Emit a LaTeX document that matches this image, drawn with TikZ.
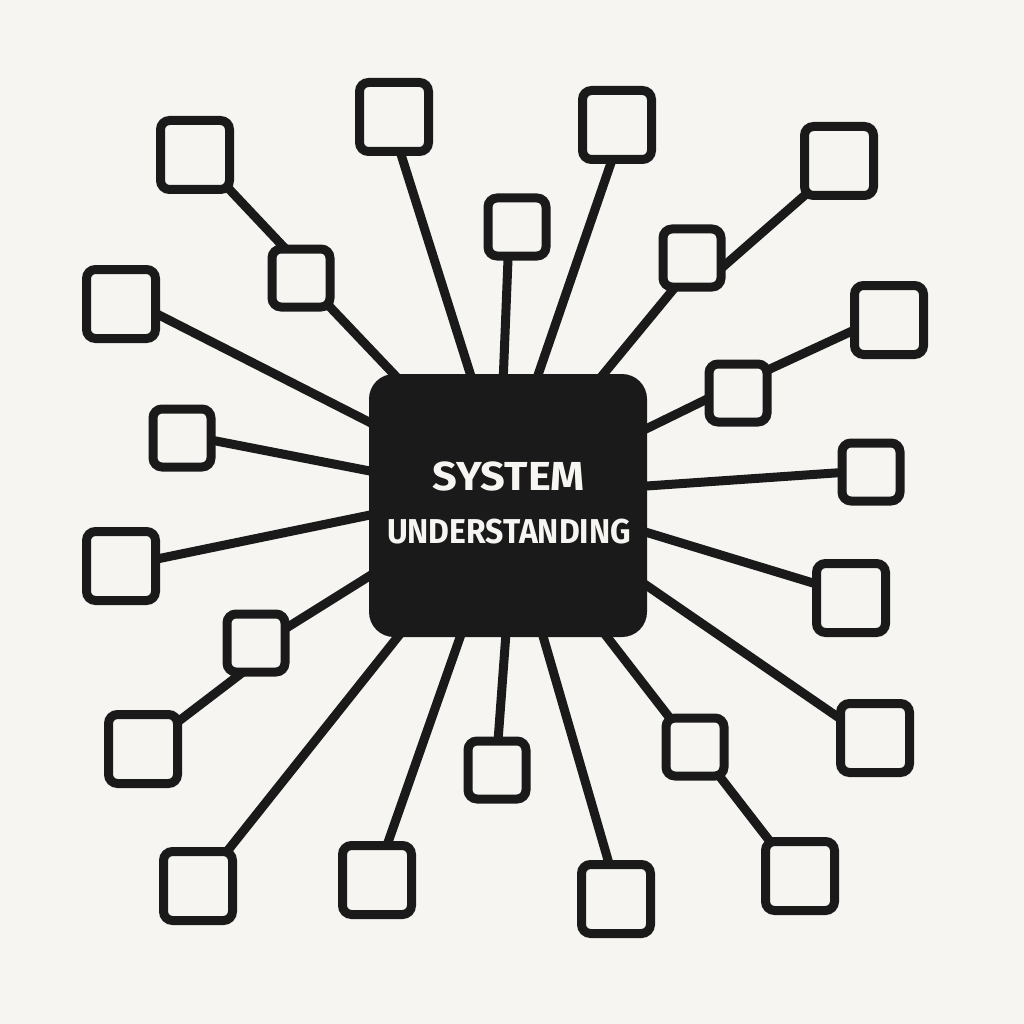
\documentclass[tikz,border=0pt]{standalone}
\usepackage{fontspec}
\setmainfont{Fira Sans}
\usetikzlibrary{backgrounds}
\definecolor{bgc}{HTML}{F7F5F1}
\definecolor{ink}{HTML}{1A1A1A}
\begin{document}
\begin{tikzpicture}[x=1pt,y=-1pt,
  box/.style={draw=ink, line width=9pt, rounded corners=9pt, fill=bgc, inner sep=0pt, outer sep=0pt},
  bigbox/.style={box, minimum size=69pt},
  smallbox/.style={box, minimum size=58pt},
  link/.style={draw=ink, line width=9pt, shorten <=-6pt, shorten >=-6pt},
  hublink/.style={link, shorten >=-12pt},
  hub/.style={fill=ink, rounded corners=25pt, minimum width=278pt, minimum height=263pt, inner sep=0pt, outer sep=0pt},
  lbl/.style={text=bgc, anchor=base, inner sep=0pt}]
\useasboundingbox (0,0) rectangle (1024,1024);
\begin{scope}[on background layer]
  \fill[bgc] (0,0) rectangle (1024,1024);
\end{scope}
% outer boxes
\node[bigbox] (A) at (195,155) {};
\node[smallbox] (B) at (301,278) {};
\node[bigbox] (C) at (394,117) {};
\node[smallbox] (D) at (517,227) {};
\node[bigbox] (G) at (617,125) {};
\node[bigbox] (H) at (839,161) {};
\node[smallbox] (I) at (692,258) {};
\node[bigbox] (J) at (889,320) {};
\node[smallbox] (K) at (738,393) {};
\node[smallbox] (L) at (871,472) {};
\node[bigbox] (W) at (851,598) {};
\node[bigbox] (V) at (875,738) {};
\node[smallbox] (T) at (695,747) {};
\node[bigbox] (U) at (800,876) {};
\node[bigbox] (S) at (616,899) {};
\node[smallbox] (R) at (497,770) {};
\node[bigbox] (Q) at (377,880) {};
\node[bigbox] (P) at (198,886) {};
\node[bigbox] (O) at (143,749) {};
\node[smallbox] (N) at (256,643) {};
\node[bigbox] (M) at (121,566) {};
\node[smallbox] (F) at (182,438) {};
\node[bigbox] (E) at (121,304) {};
% hub
\node[hub] (c) at (508,505.5) {};
\node[lbl, font=\bfseries\fontsize{40.5}{40.5}\selectfont] (t1) at (508.5,490) {\scalebox{1.07}[1]{SYSTEM}};
\node[lbl, font=\bfseries\fontsize{34.5}{34.5}\selectfont] (t2) at (509,543) {\scalebox{0.925}[1]{UNDERSTANDING}};
% connectors
\begin{scope}[on background layer]
  \draw[link] (A.-45) -- (B.118);
  \draw[hublink] (B.-45) -- (c.131);
  \draw[hublink] (C.-80) -- (c.106);
  \draw[hublink] (D.-107) -- (c.92);
  \draw[hublink] (G.-98) -- (c.77);
  \draw[link] (H.-135) -- (I.-20);
  \draw[hublink] (I.-120) -- (c.54);
  \draw[link] (J.196) -- (K.38);
  \draw[hublink] (K.190) -- (c.29);
  \draw[hublink] (L.181) -- (c.8);
  \draw[hublink] (W.158) -- (c.-11);
  \draw[hublink] (V.151) -- (c.-30);
  \draw[link] (T.-50) -- (U.131);
  \draw[hublink] (T.131) -- (c.-53);
  \draw[hublink] (S.101) -- (c.-75);
  \draw[hublink] (R.88) -- (c.-91);
  \draw[hublink] (Q.74) -- (c.-110);
  \draw[hublink] (P.50) -- (c.-130);
  \draw[link] (O.38) -- (N.-114);
  \draw[hublink] (N.26) -- (c.207);
  \draw[hublink] (M.11) -- (c.184);
  \draw[hublink] (F.-4) -- (c.166);
  \draw[hublink] (E.-15) -- (c.149);
\end{scope}
\end{tikzpicture}
\end{document}
